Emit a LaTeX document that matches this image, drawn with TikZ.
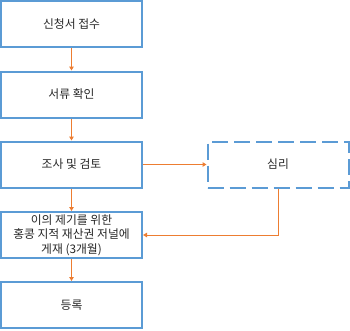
\documentclass[tikz,border=0pt]{standalone}
\usepackage{fontspec}
\setmainfont{Noto Sans CJK KR}
\usetikzlibrary{arrows.meta}
\definecolor{boxblue}{HTML}{5B9BD5}
\definecolor{arrorange}{HTML}{ED7D31}
\begin{document}
\begin{tikzpicture}[x=1pt,y=-1pt,
  stepbox/.style={draw=boxblue,line width=2pt,minimum width=141pt,minimum height=46pt,
    inner sep=0pt,align=center,font=\fontsize{11.8}{14.5}\selectfont,text=black!85},
  dashbox/.style={stepbox,dash pattern=on 16pt off 6pt},
  conn/.style={draw=arrorange,line width=1pt,-{Triangle[width=4.5pt,length=4pt]}}]
\useasboundingbox (0,0) rectangle (350,330);
\node[stepbox] (a) at (71.5,24) {신청서 접수};
\node[stepbox] (b) at (71.5,94.5) {서류 확인};
\node[stepbox] (c) at (71.5,164.5) {조사 및 검토};
\node[stepbox] (d) at (71.5,235) {이의 제기를 위한\\홍콩 지적 재산권 저널에\\게재 (3개월)};
\node[stepbox] (e) at (71.5,305) {등록};
\node[dashbox] (f) at (278,164.5) {심리};
\draw[conn] (a) -- (b);
\draw[conn] (b) -- (c);
\draw[conn] (c) -- (d);
\draw[conn] (d) -- (e);
\draw[conn] (c.east) -- (f.west);
\draw[conn] (f.south) |- (d.east);
\end{tikzpicture}
\end{document}
